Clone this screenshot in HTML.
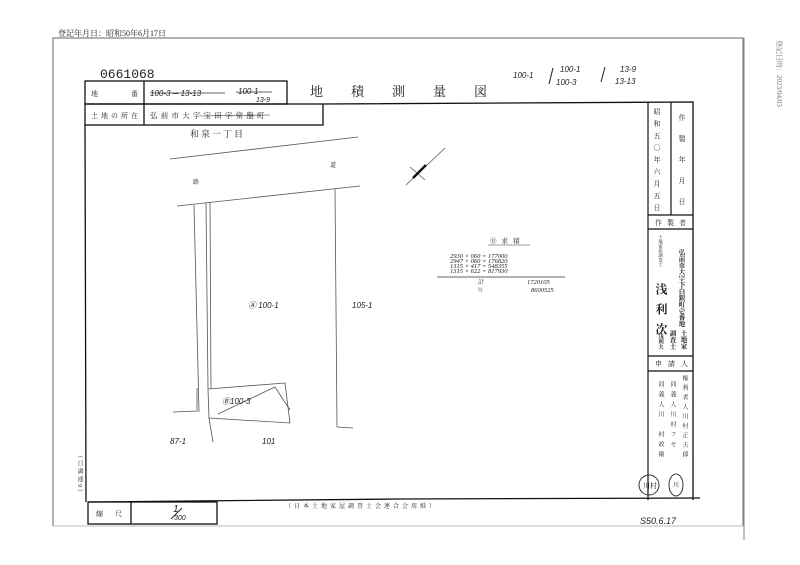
<!DOCTYPE html>
<html><head><meta charset="utf-8"><style>
html,body{margin:0;padding:0;background:#fff}
svg{display:block}
text{font-family:"Liberation Serif","Noto Serif CJK SC","Noto Sans CJK JP",serif;fill:#222}
.h{font-family:"Liberation Sans","Noto Sans CJK JP",sans-serif;font-style:italic}
</style></head><body>
<svg width="800" height="565" viewBox="0 0 800 565" xmlns="http://www.w3.org/2000/svg">
<rect width="800" height="565" fill="#fff"/>
<text x="58" y="36" font-size="8">登記年月日：昭和50年6月17日</text>
<polyline points="53,526 53,38 743,38 743,526" fill="none" stroke="#666" stroke-width="1"/>
<line x1="53" y1="526" x2="743" y2="526" stroke="#bbb" stroke-width="1"/>
<line x1="744" y1="38" x2="744" y2="540" stroke="#999" stroke-width="1.2"/>
<text x="777" y="40" font-size="7" transform="rotate(90 777 40)" style="fill:#777">登記日時：2023/04/03</text>
<text x="100" y="78" font-size="13" style="font-family:'Liberation Mono',monospace">0661068</text>
<g stroke="#111" stroke-width="1.3" fill="none">
<rect x="85" y="81" width="202" height="23"/>
<line x1="144" y1="81" x2="144" y2="125"/>
<rect x="85" y="104" width="238" height="21"/>
</g>
<text x="91" y="96" font-size="7">地</text><text x="131" y="96" font-size="7">番</text>
<text x="150" y="96" font-size="8" class="h">100-3 ─ 13-13</text>
<text x="238" y="94" font-size="8" class="h">100-1</text>
<text x="256" y="102" font-size="7" class="h">13-9</text>
<line x1="150" y1="93" x2="225" y2="93" stroke="#333" stroke-width=".7"/>
<line x1="236" y1="92" x2="272" y2="92" stroke="#333" stroke-width=".7"/>
<text x="91" y="118" font-size="7" letter-spacing="3">土地の所在</text>
<text x="150" y="118" font-size="7.5" letter-spacing="3.2">弘前市大字宝田字常盤町</text>
<line x1="200" y1="116" x2="270" y2="115" stroke="#333" stroke-width=".6"/>
<text x="310" y="96" font-size="13" letter-spacing="28">地積測量図</text>
<text x="513" y="78" font-size="8" class="h">100-1</text>
<line x1="549" y1="84" x2="553" y2="68" stroke="#222"/>
<text x="560" y="72" font-size="8" class="h">100-1</text>
<text x="556" y="85" font-size="8" class="h">100-3</text>
<line x1="601" y1="82" x2="605" y2="67" stroke="#222"/>
<text x="620" y="72" font-size="8" class="h">13-9</text>
<text x="615" y="84" font-size="8" class="h">13-13</text>
<g stroke="#111" stroke-width="1.3" fill="none">
<polyline points="323,104 693,102 693,500"/>
<line x1="85" y1="125" x2="86" y2="502"/>
<polyline points="88,502 400,499 700,498"/>
<rect x="88" y="502" width="129" height="22"/>
<line x1="131" y1="502" x2="131" y2="524"/>
</g>
<text x="96" y="516" font-size="7" letter-spacing="12">縮尺</text>
<text x="173" y="512" font-size="10" class="h">1</text>
<line x1="171" y1="519" x2="182" y2="508" stroke="#222"/>
<text x="174" y="520" font-size="7" class="h">300</text>
<text x="285" y="508" font-size="6" letter-spacing="3">（日本土地家屋調査士会連合会用紙）</text>
<text x="640" y="524" font-size="9" class="h">S50.6.17</text>
<text x="79" y="452" font-size="6" writing-mode="tb" letter-spacing="2">（日調連9）</text>
<g stroke="#111" stroke-width="1.2" fill="none">
<line x1="648" y1="102" x2="648" y2="500"/>
<line x1="671" y1="102" x2="671" y2="215"/>
<line x1="648" y1="215" x2="693" y2="215"/>
<line x1="648" y1="229" x2="693" y2="229"/>
<line x1="648" y1="356" x2="693" y2="356"/>
<line x1="648" y1="371" x2="693" y2="371"/>
</g>
<text x="657" y="108" font-size="7" writing-mode="tb" letter-spacing="5">昭和五〇年六月五日</text>
<text x="682" y="114" font-size="7" writing-mode="tb" letter-spacing="14">作製年月日</text>
<text x="655" y="225" font-size="7" letter-spacing="5">作製者</text>
<text x="661" y="235" font-size="4.5" writing-mode="tb">土地家屋調査士</text>
<text x="681" y="249" font-size="6.5" writing-mode="tb" font-weight="bold">弘前市大字下白銀町壱番地</text>
<text x="661" y="283" font-size="12" writing-mode="tb" letter-spacing="8" font-weight="bold">浅利次</text>
<text x="683" y="330" font-size="6.5" writing-mode="tb" font-weight="bold">土地家</text>
<text x="672" y="330" font-size="6.5" writing-mode="tb" font-weight="bold">調査士</text>
<text x="660" y="333" font-size="5.5" writing-mode="tb" font-weight="bold">浅利夫</text>
<text x="655" y="366" font-size="7" letter-spacing="6">申請人</text>
<text x="684" y="375" font-size="6" writing-mode="tb" letter-spacing="3.5">権利者人川村正夫郎</text>
<text x="672" y="381" font-size="6" writing-mode="tb" letter-spacing="4">同義人川村フセ</text>
<text x="660" y="381" font-size="6" writing-mode="tb" letter-spacing="4">同義人川　村政衛</text>
<circle cx="649" cy="485" r="10" fill="none" stroke="#333" stroke-width="1"/>
<text x="643" y="488" font-size="7">川村</text>
<ellipse cx="676" cy="485" rx="7" ry="11" fill="none" stroke="#333" stroke-width="1"/>
<text x="673" y="487" font-size="6">川</text>
<text x="190" y="137" font-size="9" letter-spacing="2">和泉一丁目</text>
<g stroke="#555" stroke-width=".8" fill="none">
<line x1="170" y1="159" x2="358" y2="137"/>
<line x1="177" y1="206" x2="360" y2="186"/>
<line x1="194" y1="205" x2="199" y2="412"/>
<line x1="206" y1="203" x2="208" y2="389"/>
<line x1="210" y1="202" x2="211" y2="389"/>
<line x1="335" y1="189" x2="337" y2="427"/>
<line x1="337" y1="427" x2="353" y2="428"/>
<polygon points="208,389 285,383 290,423 209,418"/>
<line x1="209" y1="418" x2="213" y2="442"/>
<polyline points="173,412 197,411 197,388"/>
<line x1="218" y1="414" x2="275" y2="387"/>
<line x1="275" y1="387" x2="290" y2="410"/>
<line x1="406" y1="185" x2="445" y2="148"/>
<line x1="410" y1="167" x2="425" y2="180"/>
</g>
<line x1="413" y1="178" x2="426" y2="165" stroke="#111" stroke-width="2.5"/>
<text x="193" y="184" font-size="6">路</text>
<text x="330" y="167" font-size="6">道</text>
<text x="248" y="308" font-size="8" class="h">Ⓐ 100-1</text>
<text x="352" y="308" font-size="8" class="h">105-1</text>
<text x="222" y="404" font-size="8" class="h">Ⓑ100-3</text>
<text x="170" y="444" font-size="8" class="h">87-1</text>
<text x="262" y="444" font-size="8" class="h">101</text>
<text x="490" y="243" font-size="6.5" letter-spacing="5">Ⓑ求積</text>
<line x1="488" y1="245" x2="530" y2="245" stroke="#333" stroke-width=".5"/>
<g font-size="6.5" class="h">
<text x="450" y="258">2930 × 060 = 177000</text>
<text x="450" y="263">2947 × 060 = 176820</text>
<text x="450" y="268">1315 × 417 = 548355</text>
<text x="450" y="273">1315 × 622 = 817930</text>
<text x="527" y="284">1720105</text>
<text x="531" y="292">8600525</text>
</g>
<line x1="437" y1="277" x2="565" y2="277" stroke="#333" stroke-width=".7"/>
<text x="478" y="284" font-size="6">計</text>
<text x="478" y="292" font-size="6">½</text>
</svg>
</body></html>
